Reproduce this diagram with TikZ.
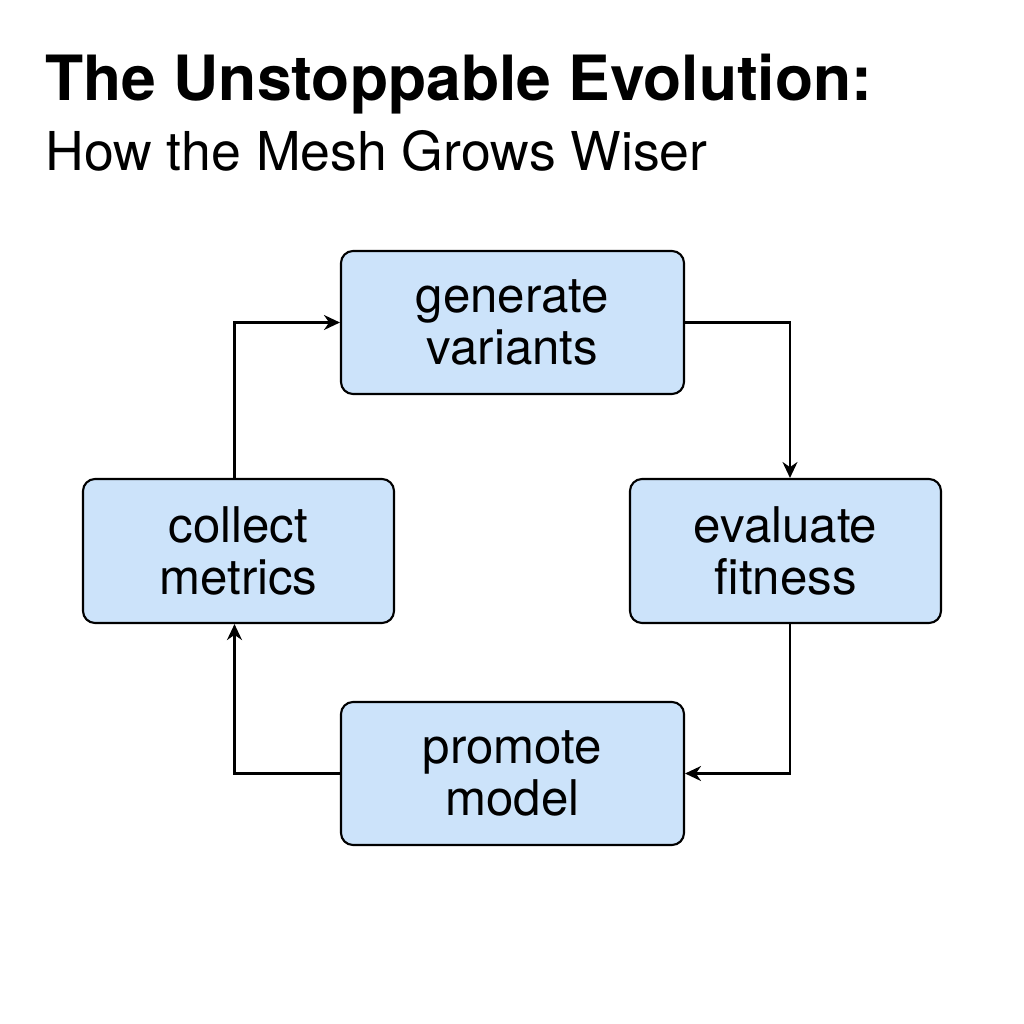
\documentclass[tikz,border=0pt]{standalone}
\usepackage{fontspec}
\setmainfont{TeX Gyre Heros}
\usepackage{xcolor}
\usepackage{tikz}
\usetikzlibrary{arrows.meta}
\definecolor{boxblue}{HTML}{CCE3FA}

\begin{document}
\begin{tikzpicture}[
	stepbox/.style={draw, line width=1.2pt, fill=boxblue, rounded corners=0.24cm, align=center, font=\fontsize{28}{30}\selectfont},
	flow/.style={line width=1.3pt, -{Stealth[length=0.32cm, width=0.3cm]}}]
	\useasboundingbox (0,0) rectangle (20.48,-20.48);
	\node[anchor=base west, inner sep=0pt, font=\fontsize{35.5}{40}\selectfont\bfseries] (title) at (0.9,-2.0) {The Unstoppable Evolution:};
	\node[anchor=base west, inner sep=0pt, font=\fontsize{30.5}{35}\selectfont] (subtitle) at (0.9,-3.4) {How the Mesh Grows Wiser};
	\node[stepbox, minimum width=6.86cm, minimum height=2.86cm] (gen) at (10.25,-6.45) {generate\\variants};
	\node[stepbox, minimum width=6.22cm, minimum height=2.88cm] (eval) at (15.71,-11.02) {evaluate\\fitness};
	\node[stepbox, minimum width=6.86cm, minimum height=2.86cm] (prom) at (10.25,-15.47) {promote\\model};
	\node[stepbox, minimum width=6.22cm, minimum height=2.88cm] (coll) at (4.77,-11.02) {collect\\metrics};
	\draw[flow] (gen.east) -| ([xshift=0.09cm]eval.north);
	\draw[flow] ([xshift=0.09cm]eval.south) |- (prom.east);
	\draw[flow] (prom.west) -| ([xshift=-0.08cm]coll.south);
	\draw[flow] ([xshift=-0.08cm]coll.north) |- (gen.west);
\end{tikzpicture}
\end{document}
